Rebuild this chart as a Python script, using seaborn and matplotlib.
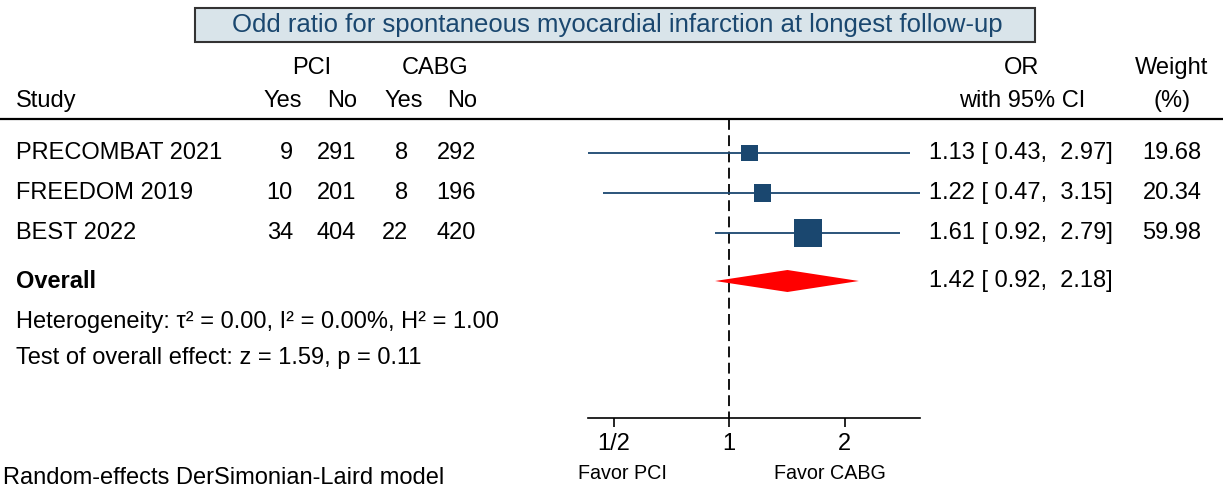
import matplotlib
matplotlib.use("Agg")
import matplotlib.pyplot as plt
from matplotlib.patches import Rectangle
from matplotlib.ticker import FixedLocator, FixedFormatter, NullLocator
import seaborn as sns
import numpy as np

# ---------------- data ----------------
studies = ["PRECOMBAT 2021", "FREEDOM 2019", "BEST 2022"]
pci_yes = [9, 10, 34]
pci_no = [291, 201, 404]
cabg_yes = [8, 8, 22]
cabg_no = [292, 196, 420]
odds = [1.13, 1.22, 1.61]
ci_low = [0.43, 0.47, 0.92]
ci_high = [2.97, 3.15, 2.79]
weights = [19.68, 20.34, 59.98]
overall = [1.42, 0.92, 2.18]
tick_values = [0.5, 1, 2]
tick_labels = ["1/2", "1", "2"]
title = "Odd ratio for spontaneous myocardial infarction at longest follow-up"
het_text = "Heterogeneity: \u03c4\u00b2 = 0.00, I\u00b2 = 0.00%, H\u00b2 = 1.00"
test_text = "Test of overall effect: z = 1.59, p = 0.11"
model_text = "Random-effects DerSimonian-Laird model"

# ---------------- style ----------------
sns.set_theme(style="white")
plt.rcParams["font.family"] = ["Liberation Sans", "DejaVu Sans"]
plt.rcParams["text.color"] = "black"
FS = 17
NAVY = "#1a476f"

W, H = 1223, 490
fig = plt.figure(figsize=(W / 100, H / 100), dpi=100)

# text layer in pixel coordinates
tx = fig.add_axes([0, 0, 1, 1])
tx.set_xlim(0, W)
tx.set_ylim(H, 0)
tx.axis("off")

# forest layer: log2 x-scale, y in pixel rows
ax = fig.add_axes([0, 0, 1, 1], facecolor="none")
x_one, px_per = 729, 115.5
ax.set_xscale("log", base=2)
ax.set_xlim(2 ** (-x_one / px_per), 2 ** ((W - x_one) / px_per))
ax.set_ylim(H, 0)
for s in ["top", "left", "right"]:
    ax.spines[s].set_visible(False)
axis_y = 418
ax.spines["bottom"].set_position(("data", axis_y))
ax.spines["bottom"].set_bounds(min(ci_low), max(ci_high))
ax.spines["bottom"].set_color("black")
ax.spines["bottom"].set_linewidth(1.2)
ax.yaxis.set_visible(False)
ax.xaxis.set_major_locator(FixedLocator(tick_values))
ax.xaxis.set_major_formatter(FixedFormatter(tick_labels))
ax.xaxis.set_minor_locator(NullLocator())
ax.tick_params(axis="x", direction="out", length=6.5, width=1.2, color="black",
               pad=4, labelsize=FS, labelcolor="black", bottom=True)
ax.grid(False)

row_y = [153, 193, 233]
overall_y = 281

# reference line at 1
ax.vlines(1, 119, axis_y, colors="black", linestyles=(0, (6, 3)), linewidth=1.3)

# CI lines
ax.hlines(row_y, ci_low, ci_high, colors=NAVY, linewidth=1.3)
# weighted squares (side grows with weight)
side_px = [28 * (w / max(weights)) ** 0.45 for w in weights]
sizes = [(p * 0.72) ** 2 for p in side_px]
sns.scatterplot(x=odds, y=row_y, marker="s", s=sizes, color=NAVY, linewidth=0,
                ax=ax, legend=False, zorder=3)
# overall diamond
dh = 11
ax.fill([overall[1], overall[0], overall[2], overall[0]],
        [overall_y, overall_y - dh, overall_y, overall_y + dh],
        color="#ff0000", linewidth=0, zorder=3)

# ---------------- text ----------------
tx.add_patch(Rectangle((195, 8), 840, 34, facecolor="#d9e4ea",
                       edgecolor="#333333", linewidth=1.5))
tx.text(617, 25, title, ha="center", va="center", fontsize=18.5, color=NAVY)

# headers
tx.text(312, 68, "PCI", ha="center", va="center", fontsize=FS)
tx.text(435, 68, "CABG", ha="center", va="center", fontsize=FS)
tx.text(16, 101, "Study", ha="left", va="center", fontsize=FS)
num_right = [293, 356, 408, 476]
sub_centers = [283, 342, 404, 462]
for xc, lab in zip(sub_centers, ["Yes", "No", "Yes", "No"]):
    tx.text(xc, 101, lab, ha="center", va="center", fontsize=FS)
tx.text(1022, 68, "OR", ha="center", va="center", fontsize=FS)
tx.text(1022, 101, "with 95% CI", ha="center", va="center", fontsize=FS)
tx.text(1172, 68, "Weight", ha="center", va="center", fontsize=FS)
tx.text(1172, 101, "(%)", ha="center", va="center", fontsize=FS)
tx.plot([0, W], [119, 119], color="black", linewidth=1.6)

for i, name in enumerate(studies):
    y = row_y[i]
    tx.text(16, y, name, ha="left", va="center", fontsize=FS)
    for xr, col in zip(num_right, [pci_yes, pci_no, cabg_yes, cabg_no]):
        tx.text(xr, y, str(col[i]), ha="right", va="center", fontsize=FS)
    tx.text(929, y, f"{odds[i]:.2f} [{ci_low[i]:5.2f}, {ci_high[i]:5.2f}]",
            ha="left", va="center", fontsize=FS)
    tx.text(1172, y, f"{weights[i]:.2f}", ha="center", va="center", fontsize=FS)

tx.text(16, overall_y, "Overall", ha="left", va="center", fontsize=FS,
        fontweight="bold")
tx.text(929, overall_y, f"{overall[0]:.2f} [{overall[1]:5.2f}, {overall[2]:5.2f}]",
        ha="left", va="center", fontsize=FS)
tx.text(16, 322, het_text, ha="left", va="center", fontsize=FS)
tx.text(16, 358, test_text, ha="left", va="center", fontsize=FS)

tx.text(622, 473, "Favor PCI", ha="center", va="center", fontsize=14.2)
tx.text(830, 473, "Favor CABG", ha="center", va="center", fontsize=14.2)
tx.text(3, 484, model_text, ha="left", va="baseline", fontsize=FS)

fig.savefig("out.png", dpi=100)
